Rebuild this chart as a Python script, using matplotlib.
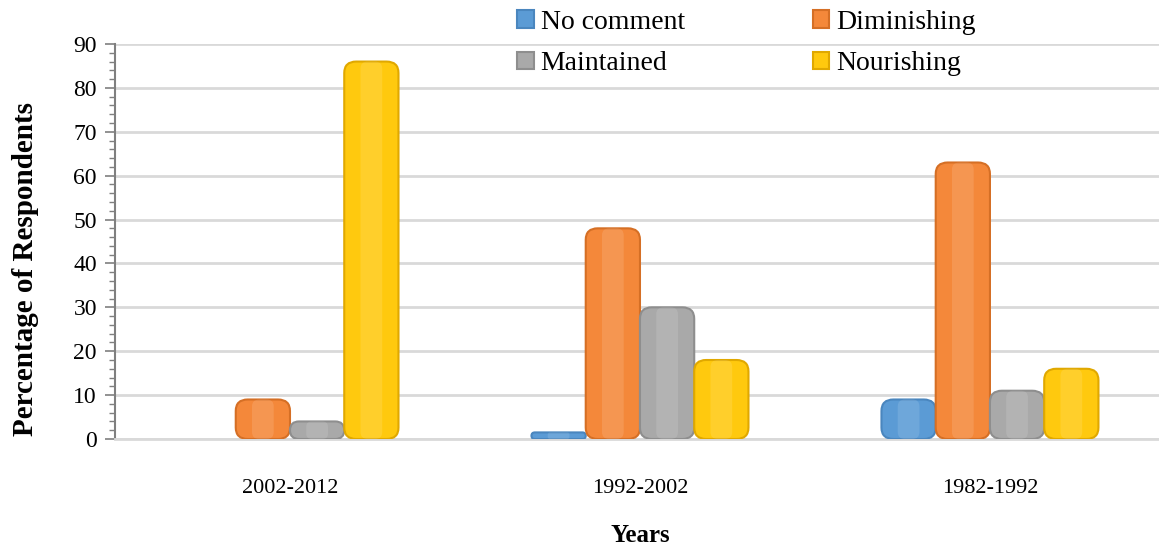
import matplotlib.pyplot as plt
import numpy as np
from matplotlib.patches import FancyBboxPatch, Patch

# Datos
periods = ['2002-2012', '1992-2002', '1982-1992']
series_names = ['No comment', 'Diminishing', 'Maintained', 'Nourishing']
no_comment = [0, 1.5, 9]
diminishing = [9, 48, 63]
maintained = [4, 30, 11]
nourishing = [86, 18, 16]
yticks = list(range(0, 91, 10))

values = [no_comment, diminishing, maintained, nourishing]
colors = ['#5B9BD5', '#F4883A', '#A9A9A9', '#FFC90E']
edges = ['#4A86BE', '#D56F25', '#8E8E8E', '#E0A800']

plt.rcParams['font.family'] = ['Liberation Serif', 'DejaVu Serif']

fig = plt.figure(figsize=(11.59, 5.48), dpi=100)
ax = fig.add_axes([115 / 1159, 109 / 548, 1 - 115 / 1159, 395 / 548])

x = np.arange(len(periods))
w = 0.155
aspect = 77.0  # relación unidades y / unidades x para esquinas redondeadas
for i, (vals, c, ec) in enumerate(zip(values, colors, edges)):
    bars = ax.bar(x + (i - 1.5) * w, vals, w, color=c)
    for b in bars:
        b.set_visible(False)
        h = b.get_height()
        if h <= 0:
            continue
        rs = min(0.034, h / 2 / aspect, b.get_width() / 2)
        p = FancyBboxPatch((b.get_x(), 0), b.get_width(), h,
                           boxstyle=f'round,pad=0,rounding_size={rs}',
                           mutation_aspect=aspect, fc=c, ec=ec, lw=1.5, zorder=3)
        ax.add_patch(p)
        # brillo central para simular volumen
        hl = FancyBboxPatch((b.get_x() + b.get_width() * 0.3, 0), b.get_width() * 0.4, h,
                            boxstyle=f'round,pad=0,rounding_size={rs * 0.6}',
                            mutation_aspect=aspect, fc='white', ec='none', alpha=0.12, zorder=4)
        ax.add_patch(hl)

ax.set_xlim(-0.5, 2.483)
ax.set_ylim(0, 90)
ax.set_yticks(yticks)
ax.set_yticks(np.arange(0, 91, 2), minor=True)
ax.set_xticks(x)
ax.set_xticklabels(periods, fontsize=16)
ax.tick_params(axis='x', length=0, pad=29)
ax.tick_params(axis='y', which='major', length=7, width=1.2, color='#7F7F7F', labelsize=17, pad=6)
ax.tick_params(axis='y', which='minor', length=4, width=1, color='#7F7F7F')
ax.grid(axis='y', color='#D9D9D9', lw=2, zorder=0)
ax.set_axisbelow(True)
for s in ['top', 'right']:
    ax.spines[s].set_visible(False)
ax.spines['left'].set_color('#7F7F7F')
ax.spines['left'].set_linewidth(1.5)
ax.spines['bottom'].set_color('#D9D9D9')
ax.spines['bottom'].set_linewidth(2)

ax.set_ylabel('Percentage of Respondents', fontsize=21, fontweight='bold')
ax.yaxis.set_label_coords(-0.073, 0.43)
fig.text(640 / 1159, 1 - 535 / 548, 'Years', fontsize=18, fontweight='bold', ha='center', va='center')

# matplotlib llena la leyenda por columnas
order = [0, 2, 1, 3]
handles = [Patch(fc=colors[k], ec=edges[k], lw=1.5) for k in order]
labels = [series_names[k] for k in order]
leg = fig.legend(handles, labels, ncol=2, loc='upper left',
                 bbox_to_anchor=(492 / 1159, 1.028), frameon=False, fontsize=20,
                 handlelength=0.6, handleheight=0.6, handletextpad=0.25,
                 columnspacing=4.6, labelspacing=0.6)

fig.savefig('out.png', dpi=100)
